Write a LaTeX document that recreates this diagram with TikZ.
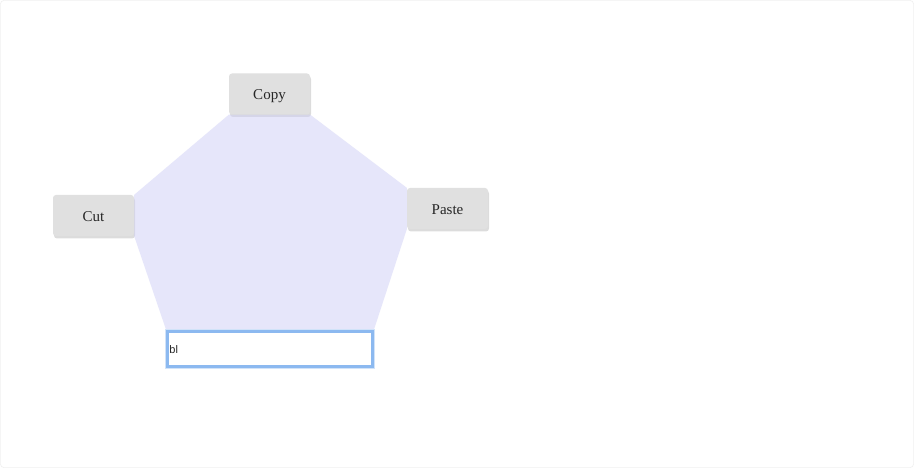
\documentclass[tikz,border=0pt]{standalone}
\usepackage{fontspec}
\setmainfont{Liberation Serif}
\newfontfamily\fieldfont{Liberation Sans}
\usetikzlibrary{shadows}
\definecolor{hullfill}{RGB}{230,230,250}
\definecolor{btnfill}{RGB}{224,224,224}
\definecolor{fieldblue}{RGB}{140,185,240}
\tikzset{
  btn/.style={fill=btnfill, rounded corners=3pt, minimum width=81pt, minimum height=41pt,
    inner sep=0pt, font=\fontsize{15}{17}\selectfont, text=black!85, text height=11.5pt, text depth=0pt,
    drop shadow={shadow xshift=1pt, shadow yshift=-2.5pt, fill=black, opacity=0.07}},
  field/.style={draw=fieldblue, line width=2.5pt, fill=white, minimum width=205pt, minimum height=35pt,
    inner sep=0pt},
}
\begin{document}
\begin{tikzpicture}[x=1pt,y=-1pt]
\useasboundingbox (0,0) rectangle (914,468);
\fill[white] (0,0) rectangle (914,468);
\draw[black!6, rounded corners=4pt, line width=0.6pt] (0.3,0.3) rectangle (913.7,467.7);
\coordinate (copyc) at (269.5,94);
\coordinate (cutc) at (93.5,215.5);
\coordinate (pastec) at (447.5,208.5);
\coordinate (fldc) at (270,349);
\path (copyc) node[btn, draw=none, fill=none, drop shadow={opacity=0}, text opacity=0] (copy) {Copy};
\path (cutc) node[btn, draw=none, fill=none, drop shadow={opacity=0}, text opacity=0] (cut) {Cut};
\path (pastec) node[btn, draw=none, fill=none, drop shadow={opacity=0}, text opacity=0] (paste) {Paste};
\path (fldc) node[field, draw=none, fill=none] (fld) {};
\fill[hullfill] (copy.south west) -- (copy.south east) -- (paste.north west) -- (paste.south west)
  -- (fld.north east) -- (fld.north west) -- (cut.south east) -- (cut.north east) -- cycle;
\node[btn] (copybtn) at (copyc) {Copy};
\node[btn] (cutbtn) at (cutc) {Cut};
\node[btn] (pastebtn) at (pastec) {Paste};
\node[field, draw=fieldblue!40, line width=4.5pt] (fldglow) at (fldc) {};
\node[field] (fldbox) at (fldc) {};
\node[anchor=west, inner sep=0pt, font=\fieldfont\fontsize{11}{13}\selectfont, text=black!85] (txt) at ([xshift=3pt,yshift=-1pt]fldbox.west) {bl};
\end{tikzpicture}
\end{document}
